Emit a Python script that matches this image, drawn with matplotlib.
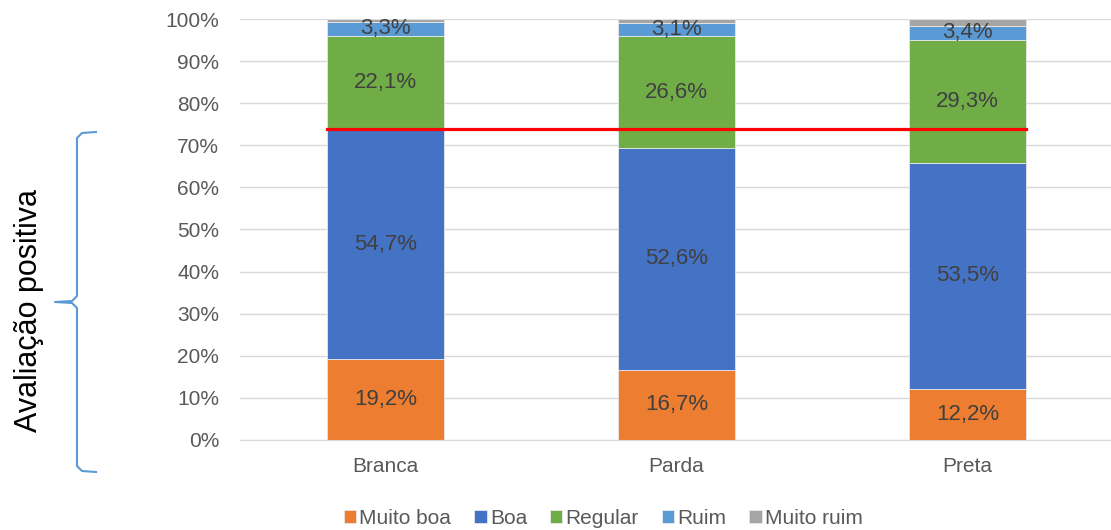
import matplotlib.pyplot as plt
import numpy as np

plt.rcParams['font.family'] = ['Liberation Sans', 'DejaVu Sans']

categories = ['Branca', 'Parda', 'Preta']
series_names = ['Muito boa', 'Boa', 'Regular', 'Ruim', 'Muito ruim']
muito_boa = [19.2, 16.7, 12.2]
boa = [54.7, 52.6, 53.5]
regular = [22.1, 26.6, 29.3]
ruim = [3.3, 3.1, 3.4]
muito_ruim = [0.7, 1.0, 1.6]
colors = ['#ed7d31', '#4472c4', '#70ad47', '#5b9bd5', '#a5a5a5']
positive_line = 73.9

if __name__ == '__main__':
    fig = plt.figure(figsize=(11.11, 5.3), dpi=100)
    ax = fig.add_axes([0.216, 0.170, 0.786, 0.794])

    ind = np.arange(len(categories))
    width = 0.4
    bottom = np.zeros(len(categories))
    values = [muito_boa, boa, regular, ruim, muito_ruim]
    for name, vals, c in zip(series_names, values, colors):
        ax.bar(ind, vals, width, bottom=bottom, color=c, label=name,
               zorder=2, edgecolor='#e8e8e8', linewidth=0.6)
        if name != 'Muito ruim':
            for x, b, v in zip(ind, bottom, vals):
                ax.text(x, b + v / 2, f'{v:.1f}%'.replace('.', ','),
                        ha='center', va='center', fontsize=16, color='#404040',
                        zorder=4)
        bottom += np.array(vals)

    ax.plot([ind[0] - width / 2, ind[-1] + width / 2], [positive_line] * 2,
            color='#ff0000', linewidth=2.3, zorder=3)

    ax.set_xlim(-0.5, len(categories) - 0.5)
    ax.set_ylim(0, 100)
    ax.set_yticks(np.arange(0, 101, 10))
    ax.set_yticklabels([f'{v}%' for v in range(0, 101, 10)])
    ax.set_xticks(ind)
    ax.set_xticklabels(categories)
    ax.tick_params(axis='both', length=0, labelsize=15, colors='#595959')
    ax.tick_params(axis='x', pad=12)
    ax.tick_params(axis='y', pad=15)
    ax.yaxis.grid(True, color='#d9d9d9', linewidth=1, zorder=0)
    for s in ['top', 'right', 'left']:
        ax.spines[s].set_visible(False)
    ax.spines['bottom'].set_color('#d9d9d9')

    handles, labels = ax.get_legend_handles_labels()
    fig.legend(handles, labels, loc='center', bbox_to_anchor=(0.543, 0.022),
               ncol=5, frameon=False, fontsize=15, handlelength=0.6,
               handleheight=0.6, handletextpad=0.15, columnspacing=1.1,
               labelcolor='#595959')

    # brace + label on the left
    ov = fig.add_axes([0, 0, 1, 1], zorder=-1)
    ov.set_xlim(0, 1111)
    ov.set_ylim(530, 0)
    ov.axis('off')
    bx = [96, 82, 77, 77, 72, 55, 72, 77, 77, 82, 96]
    by = [132, 133, 138, 296, 301, 302, 303, 308, 466, 471, 472]
    ov.plot(bx, by, color='#5b9bd5', linewidth=1.5)
    ov.text(29, 310, 'Avaliação positiva', rotation=90, ha='center',
            va='center', fontsize=22, color='black')

    fig.savefig('out.png', dpi=100)
